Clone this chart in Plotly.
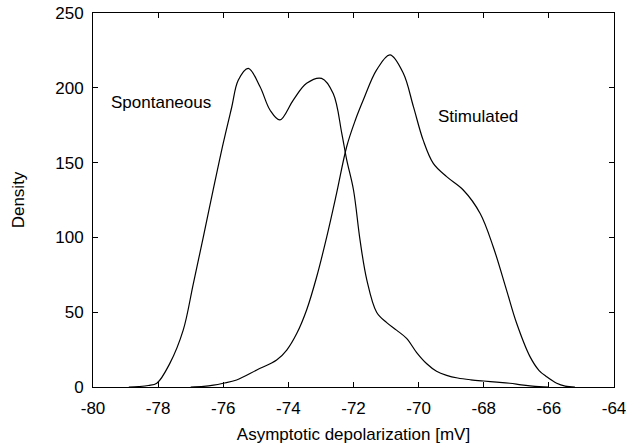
import plotly.graph_objects as go

spont_x = [-78.9, -78.6, -78.3, -78.04, -77.64, -77.23, -76.92, -76.61, -76.31, -76.0, -75.74, -75.54,
           -75.23, -74.87, -74.56, -74.26, -73.85, -73.44, -72.98, -72.62, -72.36, -72.21, -72.0,
           -71.8, -71.59, -71.29, -70.98, -70.68, -70.37, -70.06, -69.75, -69.45, -69.14, -68.8,
           -68.4, -68.0, -67.6, -67.2, -66.85, -66.58, -66.3, -66.0]
spont_y = [0.0, 0.3, 1.0, 2.5, 15.8, 38.0, 69.0, 100.5, 131.7, 163.0, 187.0, 205.0,
           213.0, 200.7, 185.0, 178.5, 191.8, 203.0, 206.3, 196.0, 169.6, 152.0, 131.7,
           98.3, 71.5, 50.0, 43.0, 38.0, 32.5, 23.0, 15.5, 10.5, 7.8, 6.0,
           4.8, 4.0, 3.3, 2.5, 1.4, 0.7, 0.2, 0.0]

stim_x = [-77.0, -76.6, -76.3, -76.0, -75.59, -74.97, -74.36, -74.05, -73.74, -73.44, -73.13,
          -72.82, -72.52, -72.21, -71.95, -71.7, -71.29, -70.88, -70.47, -70.16, -69.86, -69.55,
          -69.14, -68.63, -68.11, -67.71, -67.3, -66.99, -66.58, -66.3, -66.07, -65.76, -65.5, -65.2]
stim_y = [0.0, 0.4, 1.2, 2.5, 4.7, 11.4, 18.0, 24.7, 35.9, 51.5, 73.7,
          100.5, 129.4, 160.6, 178.0, 191.8, 212.0, 222.0, 209.7, 187.4, 165.0, 149.5,
          140.6, 131.7, 116.0, 93.8, 64.8, 42.6, 20.3, 11.0, 6.9, 2.5, 0.6, 0.0]

x_tick_vals = [-80, -78, -76, -74, -72, -70, -68, -66, -64]
x_tick_text = ["-80", "-78", "-76", "-74", "-72", "-70", "-68", "-66", "-64"]
y_tick_vals = [0, 50, 100, 150, 200, 250]
y_tick_text = ["0", "50", "100", "150", "200", "250"]

label_text = ["Spontaneous", "Stimulated"]
label_x = [-77.9, -68.18]
label_y = [190, 180.5]

font = dict(family="Liberation Sans, Arial, Helvetica, sans-serif", size=17, color="black")
line_style = dict(color="black", width=1.2, shape="spline", smoothing=1.0)

fig = go.Figure()
fig.add_trace(go.Scatter(x=spont_x, y=spont_y, mode="lines", line=line_style, showlegend=False))
fig.add_trace(go.Scatter(x=stim_x, y=stim_y, mode="lines", line=line_style, showlegend=False))

for t, x, y in zip(label_text, label_x, label_y):
    fig.add_annotation(x=x, y=y, text=t, showarrow=False, font=font, xanchor="center", yanchor="middle")

axis_common = dict(showgrid=False, zeroline=False, showline=True, linecolor="black", linewidth=1,
                   mirror="ticks", ticks="inside", ticklen=5, tickcolor="black", tickwidth=1,
                   tickfont=font, ticklabeloverflow="allow", tickmode="array")

fig.update_xaxes(range=[-80, -64], tickvals=x_tick_vals, ticktext=x_tick_text,
                 ticklabelstandoff=6,
                 title=dict(text="Asymptotic depolarization [mV]", font=font, standoff=10), **axis_common)
fig.update_yaxes(range=[0, 250], tickvals=y_tick_vals, ticktext=y_tick_text,
                 ticklabelstandoff=5,
                 title=dict(text="Density", font=font, standoff=26), **axis_common)

fig.update_layout(width=626, height=446, margin=dict(l=93, r=12, t=13, b=59, autoexpand=False),
                  plot_bgcolor="white", paper_bgcolor="white", font=font)

fig.write_html("out.html")
